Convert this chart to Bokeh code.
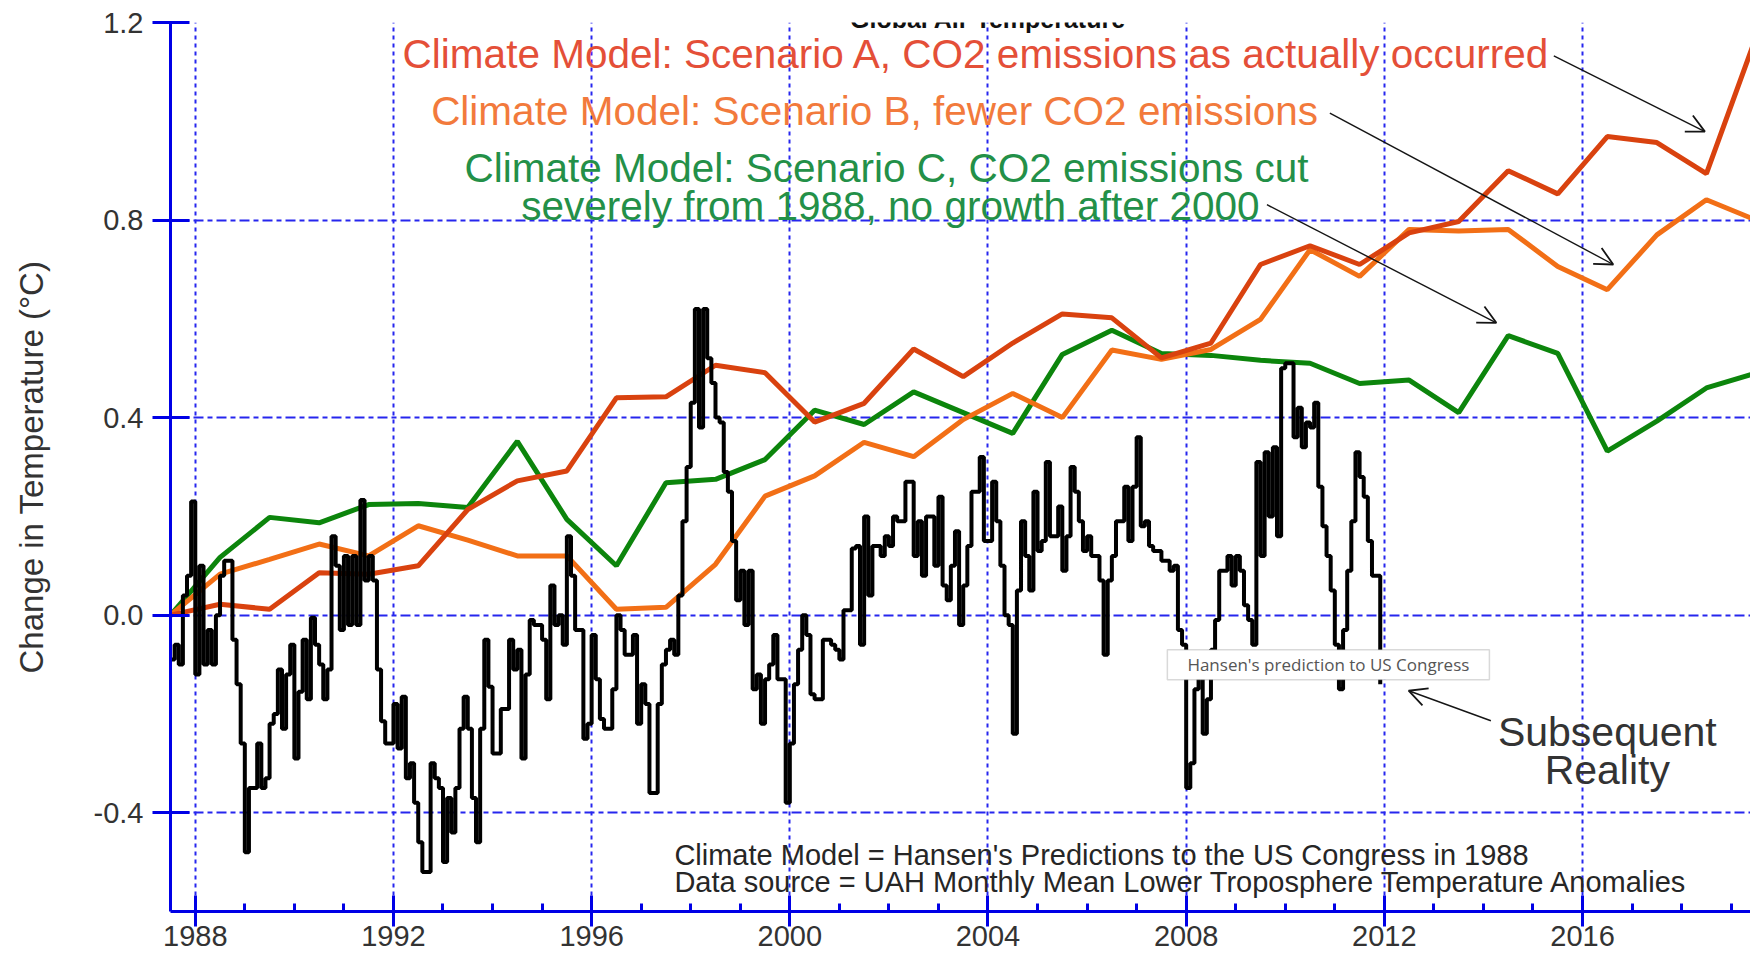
from bokeh.plotting import figure
from bokeh.models import (Range1d, LinearAxis, FixedTicker, PrintfTickFormatter, Label,
                          Arrow, OpenHead, BoxAnnotation, Grid)
from bokeh.embed import file_html
from bokeh.resources import INLINE

# ---------------- data ----------------
model_years = [1987.5 + k for k in range(33)]
scenario_a = [0.00, 0.022, 0.012, 0.086, 0.083, 0.100, 0.214, 0.272, 0.292, 0.440, 0.442,
              0.506, 0.491, 0.391, 0.429, 0.539, 0.483, 0.551, 0.610, 0.602, 0.521, 0.551,
              0.710, 0.748, 0.710, 0.774, 0.797, 0.900, 0.853, 0.969, 0.957, 0.894, 1.17]
scenario_b = [0.00, 0.083, 0.113, 0.144, 0.120, 0.181, 0.152, 0.120, 0.120, 0.012, 0.016,
              0.103, 0.241, 0.282, 0.350, 0.321, 0.396, 0.449, 0.400, 0.537, 0.518, 0.538,
              0.599, 0.740, 0.686, 0.781, 0.778, 0.781, 0.706, 0.659, 0.770, 0.841, 0.80]
scenario_c = [0.00, 0.117, 0.198, 0.187, 0.224, 0.226, 0.218, 0.352, 0.194, 0.100, 0.268,
              0.275, 0.315, 0.415, 0.386, 0.452, 0.410, 0.368, 0.528, 0.577, 0.530, 0.526,
              0.516, 0.510, 0.469, 0.476, 0.410, 0.566, 0.530, 0.332, 0.393, 0.460, 0.49]

# UAH monthly anomalies, from mid-1987 (one value per month)
uah_monthly = [
    -0.09, -0.06, -0.10, 0.04, 0.08, 0.23, -0.12, 0.10, -0.10, -0.03,
    -0.10, 0.00, 0.08, 0.11, 0.11, -0.05, -0.14, -0.26, -0.48, -0.35,
    -0.35, -0.26, -0.35, -0.33, -0.22, -0.20, -0.11, -0.23, -0.12, -0.06,
    -0.29, -0.155, -0.05, -0.17, -0.005, -0.06, -0.10, -0.17, -0.11, 0.16,
    0.10, -0.03, 0.12, -0.02, 0.12, -0.02, 0.233, 0.07, 0.12, 0.07,
    -0.11, -0.215, -0.26, -0.26, -0.18, -0.27, -0.165, -0.33, -0.30, -0.38,
    -0.46, -0.52, -0.52, -0.30, -0.33, -0.35, -0.50, -0.37, -0.44, -0.35,
    -0.23, -0.165, -0.23, -0.37, -0.46, -0.23, -0.05, -0.145, -0.28, -0.28,
    -0.19, -0.19, -0.05, -0.11, -0.07, -0.29, -0.12, -0.01, -0.02, -0.02,
    -0.05, -0.17, 0.06, -0.02, 0.00, -0.06, 0.16, 0.08, -0.03, -0.03,
    -0.25, -0.22, -0.04, -0.13, -0.21, -0.23, -0.23, -0.15, 0.00, -0.03,
    -0.08, -0.08, -0.04, -0.22, -0.14, -0.18, -0.36, -0.36, -0.18, -0.10,
    -0.07, -0.05, -0.08, 0.04, 0.19, 0.30, 0.43, 0.62, 0.38, 0.62,
    0.52, 0.47, 0.40, 0.39, 0.29, 0.25, 0.15, 0.03, 0.09, -0.02,
    0.09, -0.15, -0.12, -0.22, -0.13, -0.10, -0.04, -0.13, -0.13, -0.38,
    -0.26, -0.14, -0.07, 0.00, -0.04, -0.16, -0.17, -0.17, -0.05, -0.05,
    -0.06, -0.07, -0.09, 0.01, 0.01, 0.135, 0.14, -0.06, 0.20, 0.04,
    0.14, 0.14, 0.12, 0.16, 0.14, 0.20, 0.19, 0.19, 0.27, 0.27,
    0.12, 0.19, 0.08, 0.20, 0.20, 0.10, 0.24, 0.06, 0.03, 0.10,
    0.17, -0.02, 0.06, 0.14, 0.25, 0.25, 0.32, 0.15, 0.15, 0.27,
    0.19, 0.10, 0.00, -0.02, -0.24, 0.05, 0.19, 0.12, 0.05, 0.25,
    0.13, 0.15, 0.31, 0.16, 0.16, 0.22, 0.09, 0.16, 0.30, 0.25,
    0.19, 0.13, 0.16, 0.12, 0.12, 0.07, -0.08, 0.07, 0.12, 0.19,
    0.19, 0.26, 0.15, 0.26, 0.36, 0.18, 0.19, 0.14, 0.13, 0.13,
    0.11, 0.11, 0.09, 0.10, -0.03, -0.06, -0.35, -0.30, -0.15, -0.11,
    -0.24, -0.17, -0.07, -0.01, 0.09, 0.09, 0.12, 0.06, 0.12, 0.09,
    0.02, -0.01, -0.06, 0.31, 0.12, 0.33, 0.20, 0.34, 0.16, 0.50,
    0.51, 0.51, 0.36, 0.42, 0.34, 0.39, 0.38, 0.43, 0.26, 0.18,
    0.12, 0.05, -0.06, -0.15, -0.03, 0.09, 0.19, 0.33, 0.28, 0.24,
    0.15, 0.08, 0.08, -0.14,
]
uah_start = 1987.5
uah_x = [uah_start + i / 12.0 for i in range(len(uah_monthly))]

x_major_ticks = [1988, 1992, 1996, 2000, 2004, 2008, 2012, 2016]
x_minor_ticks = [y for y in range(1987, 2021)]
y_ticks = [-0.4, 0.0, 0.4, 0.8, 1.2]

title_text = "Global Air Temperature"
y_label = "Change in Temperature (°C)"
label_a = "Climate Model: Scenario A, CO2 emissions as actually occurred"
label_b = "Climate Model: Scenario B, fewer CO2 emissions"
label_c1 = "Climate Model: Scenario C, CO2 emissions cut"
label_c2 = "severely from 1988, no growth after 2000"
reality_1 = "Subsequent"
reality_2 = "Reality"
note_1 = "Climate Model = Hansen's Predictions to the US Congress in 1988"
note_2 = "Data source = UAH Monthly Mean Lower Troposphere Temperature Anomalies"
tooltip_text = "Hansen's prediction to US Congress"

# ---------------- styles ----------------
AXIS_BLUE = "#0000e6"
GRID_BLUE = "#2626ee"
COL_A = "#d9420f"
COL_B = "#f26f16"
COL_C = "#0c850c"
TXT_A = "#e44f38"
TXT_B = "#f27a3c"
TXT_C = "#239048"
FONT = "Liberation Sans"

p = figure(width=1750, height=957, output_backend="svg", toolbar_location=None,
           x_range=Range1d(1987.5, 2019.39), y_range=Range1d(-0.6, 1.2),
           x_axis_location=None, y_axis_location=None,
           min_border_left=170, min_border_right=0, min_border_top=22, min_border_bottom=46)
p.outline_line_color = None
p.background_fill_color = "white"
p.border_fill_color = "white"
# drop the default light grids
p.center = [r for r in p.center if not isinstance(r, Grid)]

xaxis = LinearAxis(ticker=FixedTicker(ticks=x_major_ticks, minor_ticks=x_minor_ticks),
                   formatter=PrintfTickFormatter(format="%d"))
xaxis.axis_line_color = AXIS_BLUE
xaxis.axis_line_width = 3
xaxis.major_tick_line_color = AXIS_BLUE
xaxis.major_tick_line_width = 3
xaxis.major_tick_in = 16
xaxis.major_tick_out = 15
xaxis.minor_tick_line_color = AXIS_BLUE
xaxis.minor_tick_line_width = 3
xaxis.minor_tick_in = 8
xaxis.minor_tick_out = 0
xaxis.major_label_text_font = FONT
xaxis.major_label_text_font_size = "29px"
xaxis.major_label_text_color = "#333333"
xaxis.major_label_standoff = -1
p.add_layout(xaxis, "below")

yaxis = LinearAxis(ticker=FixedTicker(ticks=y_ticks),
                   formatter=PrintfTickFormatter(format="%.1f"))
yaxis.axis_line_color = AXIS_BLUE
yaxis.axis_line_width = 3
yaxis.major_tick_line_color = AXIS_BLUE
yaxis.major_tick_line_width = 3
yaxis.major_tick_in = 19
yaxis.major_tick_out = 18
yaxis.minor_tick_line_color = None
yaxis.major_label_text_font = FONT
yaxis.major_label_text_font_size = "29px"
yaxis.major_label_text_color = "#333333"
yaxis.major_label_standoff = 9
yaxis.axis_label = y_label
yaxis.axis_label_text_font = FONT
yaxis.axis_label_text_font_size = "33px"
yaxis.axis_label_text_font_style = "normal"
yaxis.axis_label_text_color = "#333333"
yaxis.axis_label_standoff = 41
p.add_layout(yaxis, "left")

p.add_layout(Grid(dimension=0, ticker=xaxis.ticker, grid_line_color=GRID_BLUE,
                  grid_line_width=2, grid_line_dash="4 4"))
p.add_layout(Grid(dimension=1, ticker=yaxis.ticker, grid_line_color=GRID_BLUE,
                  grid_line_width=2, grid_line_dash="10 4 5 4"))

# ---------------- series ----------------
p.line(model_years, scenario_c, line_color=COL_C, line_width=5)
p.line(model_years, scenario_b, line_color=COL_B, line_width=5)
p.line(model_years, scenario_a, line_color=COL_A, line_width=5)
p.step(uah_x, uah_monthly, mode="after", line_color="black", line_width=4)

# ---------------- annotations ----------------
def lab(x, y, text, color, size, align="center", baseline="middle", style="normal", font=FONT):
    p.add_layout(Label(x=x, y=y, text=text, text_color=color, text_font=font,
                       text_font_size=size, text_align=align, text_baseline=baseline,
                       text_font_style=style))

lab(2003.77, 1.136, label_a, TXT_A, "40.5px")
lab(2001.71, 1.021, label_b, TXT_B, "40.5px")
lab(2001.95, 0.906, label_c1, TXT_C, "40.5px")
lab(2002.03, 0.828, label_c2, TXT_C, "40.5px")
lab(2004.0, 1.2061, title_text, "#111111", "25px", baseline="alphabetic", style="bold")

arrow_style = dict(line_color="#151515", line_width=1.4)
for xs, ys, xe, ye in [(2015.42, 1.1325, 2018.47, 0.979),
                       (2010.90, 1.0166, 2016.62, 0.710),
                       (2009.63, 0.831, 2014.26, 0.592),
                       (2014.15, -0.2138, 2012.49, -0.153)]:
    p.add_layout(Arrow(x_start=xs, y_start=ys, x_end=xe, y_end=ye,
                       end=OpenHead(size=18, line_color="#151515", line_width=1.8),
                       **arrow_style))

lab(2016.50, -0.237, reality_1, "#333333", "41px")
lab(2016.50, -0.313, reality_2, "#333333", "41px")

lab(1997.67, -0.485, note_1, "#262626", "29px", align="left")
lab(1997.67, -0.540, note_2, "#262626", "29px", align="left")

p.add_layout(BoxAnnotation(left=2007.62, right=2014.12, top=-0.0702, bottom=-0.131,
                           fill_color="white", fill_alpha=1.0, line_color="#808080",
                           line_width=1.5, level="overlay"))
p.add_layout(Label(x=2010.87, y=-0.1006, text=tooltip_text, text_color="#555555",
                   text_font="Open Sans", text_font_size="17px", text_align="center",
                   text_baseline="middle", level="overlay"))

open("out.html", "w").write(file_html(p, INLINE))
